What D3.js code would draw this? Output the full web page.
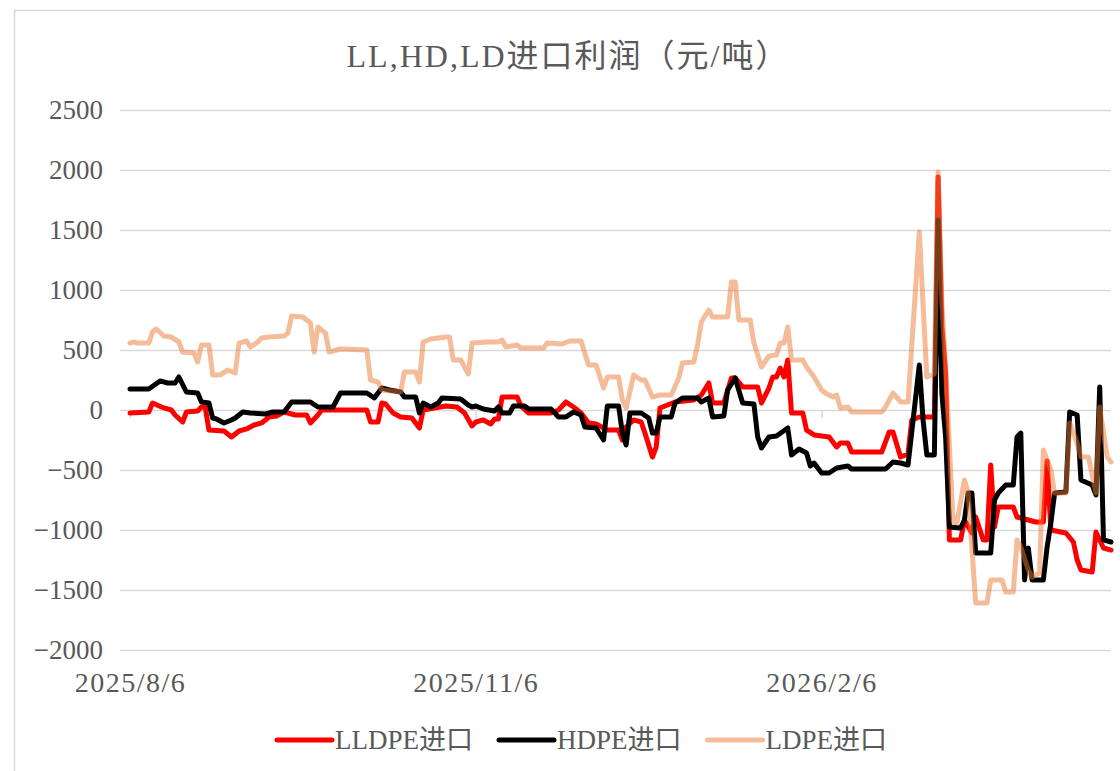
<!DOCTYPE html>
<html>
<head>
<meta charset="utf-8">
<script src="https://cdn.jsdelivr.net/npm/d3@7"></script>
<style>
  body{margin:0;background:#fff}
  text{font-family:"Liberation Serif","Noto Sans CJK SC",serif;fill:#595959}
</style>
</head>
<body>
<svg id="chart" width="1120" height="771"></svg>
<script>
// chart data (yuan / ton)
const title = "LL,HD,LD进口利润（元/吨）"
const seriesNames = ["LLDPE进口", "HDPE进口", "LDPE进口"]
const yTicks = [-2000, -1500, -1000, -500, 0, 500, 1000, 1500, 2000, 2500]
const xTickDates = ["2025/8/6", "2025/11/6", "2026/2/6"]

const llDates = [
  "2025/8/6","2025/8/11","2025/8/12","2025/8/15","2025/8/17","2025/8/18","2025/8/20","2025/8/21","2025/8/24","2025/8/25","2025/8/26","2025/8/27","2025/8/31",
  "2025/9/2","2025/9/4","2025/9/6","2025/9/8","2025/9/10","2025/9/12","2025/9/14","2025/9/16","2025/9/19","2025/9/22","2025/9/23","2025/9/25","2025/9/26",
  "2025/10/8","2025/10/9","2025/10/11","2025/10/12","2025/10/13","2025/10/15","2025/10/16","2025/10/17","2025/10/20","2025/10/22","2025/10/23","2025/10/26","2025/10/29",
  "2025/11/1","2025/11/3","2025/11/5","2025/11/6","2025/11/8","2025/11/10","2025/11/11","2025/11/12","2025/11/13","2025/11/17","2025/11/18","2025/11/20","2025/11/26","2025/11/28","2025/11/30",
  "2025/12/2","2025/12/4","2025/12/6","2025/12/8","2025/12/11","2025/12/14","2025/12/15","2025/12/16","2025/12/18","2025/12/20","2025/12/21","2025/12/23","2025/12/24","2025/12/25","2025/12/27","2025/12/29",
  "2026/1/3","2026/1/5","2026/1/7","2026/1/8","2026/1/11","2026/1/13","2026/1/14","2026/1/16","2026/1/20","2026/1/21","2026/1/23","2026/1/24","2026/1/25","2026/1/26","2026/1/27","2026/1/28","2026/1/29",
  "2026/2/1","2026/2/2","2026/2/4","2026/2/6","2026/2/8","2026/2/10","2026/2/11","2026/2/13","2026/2/14","2026/2/22","2026/2/24","2026/2/25","2026/2/27",
  "2026/3/1","2026/3/2","2026/3/4","2026/3/8","2026/3/9","2026/3/10","2026/3/11","2026/3/12","2026/3/15","2026/3/16","2026/3/18","2026/3/19","2026/3/21","2026/3/22","2026/3/23","2026/3/24","2026/3/25","2026/3/29","2026/3/30",
  "2026/4/2","2026/4/4","2026/4/6","2026/4/7","2026/4/8","2026/4/12","2026/4/14","2026/4/15","2026/4/16","2026/4/19","2026/4/20","2026/4/22","2026/4/24"]
const llValues = [
  -25,-17,58,17,0,-42,-100,-17,-8,25,25,-167,-175,
  -225,-175,-158,-125,-108,-58,-50,-17,-42,-42,-108,-42,0,
  0,-100,-100,58,50,-25,-42,-58,-67,-150,0,17,33,
  25,-25,-133,-100,-83,-117,-75,-75,108,108,33,-25,-25,0,67,
  25,-25,-108,-117,-167,-167,-250,-142,-83,-100,-192,-392,-308,17,42,67,
  83,125,225,58,58,267,267,192,192,58,183,275,275,350,275,417,-25,
  -25,-167,-208,-217,-225,-308,-275,-275,-350,-350,-183,-183,-392,
  -367,-83,-58,-58,1942,692,308,-1083,-1083,-917,-1025,-892,-1083,-1083,-458,-975,-808,-808,-892,
  -917,-933,-933,-425,-1000,-1025,-1100,-1250,-1333,-1350,-1017,-1150,-1167]

const hdDates = [
  "2025/8/6","2025/8/11","2025/8/14","2025/8/16","2025/8/18","2025/8/19","2025/8/21","2025/8/24","2025/8/25","2025/8/27","2025/8/28","2025/8/29","2025/8/31",
  "2025/9/2","2025/9/3","2025/9/5","2025/9/7","2025/9/11","2025/9/13","2025/9/16","2025/9/18","2025/9/23","2025/9/25","2025/9/29",
  "2025/10/1","2025/10/8","2025/10/10","2025/10/12","2025/10/14","2025/10/17","2025/10/18","2025/10/21","2025/10/22","2025/10/23","2025/10/25","2025/10/27","2025/10/28",
  "2025/11/2","2025/11/4","2025/11/5","2025/11/6","2025/11/8","2025/11/11","2025/11/12","2025/11/13","2025/11/15","2025/11/16","2025/11/19","2025/11/20","2025/11/26","2025/11/28","2025/11/30",
  "2025/12/2","2025/12/4","2025/12/5","2025/12/8","2025/12/10","2025/12/11","2025/12/14","2025/12/15","2025/12/16","2025/12/17","2025/12/20","2025/12/22","2025/12/23","2025/12/24","2025/12/25","2025/12/28","2025/12/29","2025/12/31",
  "2026/1/4","2026/1/5","2026/1/7","2026/1/8","2026/1/11","2026/1/12","2026/1/14","2026/1/16","2026/1/19","2026/1/20","2026/1/21","2026/1/23","2026/1/25","2026/1/28","2026/1/29","2026/1/31",
  "2026/2/2","2026/2/3","2026/2/4","2026/2/6","2026/2/8","2026/2/10","2026/2/13","2026/2/14","2026/2/23","2026/2/25","2026/2/27",
  "2026/3/1","2026/3/4","2026/3/5","2026/3/6","2026/3/8","2026/3/9","2026/3/10","2026/3/11","2026/3/12","2026/3/15","2026/3/16","2026/3/17","2026/3/18","2026/3/19","2026/3/23","2026/3/24","2026/3/25","2026/3/27","2026/3/29","2026/3/30","2026/3/31",
  "2026/4/1","2026/4/2","2026/4/3","2026/4/6","2026/4/7","2026/4/8","2026/4/9","2026/4/12","2026/4/13","2026/4/15","2026/4/16","2026/4/19","2026/4/20","2026/4/21","2026/4/22","2026/4/24"]
const hdValues = [
  175,175,242,225,225,275,150,142,67,58,-67,-75,-108,
  -83,-67,-17,-25,-33,-17,-17,67,67,25,25,
  142,142,100,183,167,150,108,108,-25,58,25,58,100,
  92,42,25,33,8,-8,25,-25,-25,33,33,8,8,-58,-58,
  -17,-42,-142,-150,-250,33,33,-192,-292,-25,-25,-67,-192,-192,-58,-58,58,100,
  100,67,100,-58,-50,167,267,58,50,-225,-317,-225,-217,-150,-375,-325,
  -358,-467,-442,-525,-525,-483,-467,-492,-492,-433,-442,
  -458,375,-83,-375,-375,1583,142,-225,-975,-983,-917,-692,-692,-1192,-1192,-750,-692,-625,-625,-225,-192,
  -1417,-1150,-1417,-1417,-1142,-942,-692,-683,-17,-42,-583,-625,-708,192,-1083,-1100]

const ldDates = [
  "2025/8/6","2025/8/7","2025/8/8","2025/8/11","2025/8/12","2025/8/13","2025/8/15","2025/8/17","2025/8/19","2025/8/20","2025/8/23","2025/8/24","2025/8/25","2025/8/27","2025/8/28","2025/8/30",
  "2025/9/1","2025/9/3","2025/9/4","2025/9/6","2025/9/7","2025/9/9","2025/9/10","2025/9/12","2025/9/16","2025/9/17","2025/9/18","2025/9/21","2025/9/23","2025/9/24","2025/9/25","2025/9/27","2025/9/28",
  "2025/10/1","2025/10/8","2025/10/9","2025/10/11","2025/10/12","2025/10/17","2025/10/18","2025/10/21","2025/10/22","2025/10/23","2025/10/25","2025/10/29","2025/10/30","2025/10/31",
  "2025/11/2","2025/11/4","2025/11/5","2025/11/9","2025/11/12","2025/11/13","2025/11/14","2025/11/17","2025/11/18","2025/11/24","2025/11/25","2025/11/29",
  "2025/12/1","2025/12/4","2025/12/6","2025/12/8","2025/12/10","2025/12/11","2025/12/14","2025/12/15","2025/12/16","2025/12/18","2025/12/20","2025/12/21","2025/12/23","2025/12/25","2025/12/28","2025/12/30","2025/12/31",
  "2026/1/3","2026/1/4","2026/1/5","2026/1/7","2026/1/8","2026/1/12","2026/1/13","2026/1/14","2026/1/15","2026/1/18","2026/1/19","2026/1/21","2026/1/23","2026/1/25","2026/1/26","2026/1/27","2026/1/28","2026/1/29",
  "2026/2/1","2026/2/2","2026/2/4","2026/2/6","2026/2/7","2026/2/9","2026/2/10","2026/2/11","2026/2/13","2026/2/14","2026/2/22","2026/2/23","2026/2/25","2026/2/27",
  "2026/3/1","2026/3/4","2026/3/6","2026/3/8","2026/3/9","2026/3/10","2026/3/11","2026/3/13","2026/3/14","2026/3/16","2026/3/17","2026/3/19","2026/3/22","2026/3/23","2026/3/26","2026/3/27","2026/3/29","2026/3/30","2026/3/31",
  "2026/4/2","2026/4/3","2026/4/5","2026/4/6","2026/4/8","2026/4/9","2026/4/12","2026/4/13","2026/4/15","2026/4/16","2026/4/18","2026/4/20","2026/4/21","2026/4/23","2026/4/24"]
const ldValues = [
  558,567,558,558,650,675,617,608,567,483,475,400,542,542,292,292,
  333,308,558,575,525,567,600,608,617,640,783,775,725,483,692,640,483,
  508,500,250,233,167,150,317,317,233,567,592,608,608,417,
  417,300,558,567,567,583,525,542,517,517,558,550,
  575,575,375,375,183,275,275,83,17,292,250,250,108,125,125,267,392,
  400,542,733,833,775,775,1067,1067,750,750,558,358,450,458,558,558,692,417,
  417,358,275,167,142,108,125,17,25,-17,-17,25,142,67,
  67,1483,275,300,1983,900,330,-930,-942,-583,-692,-1608,-1608,-1417,-1417,-1517,-1517,-1083,-1142,
  -1333,-1392,-1358,-333,-500,-692,-692,-108,-275,-392,-392,-692,25,-392,-433]

const seriesColors = ["#ff0000", "#000000", "#eb7a33"]
const seriesOpacity = [1, 1, 0.5]

const parseDate = d3.timeParse("%Y/%m/%d")
const series = [[llDates, llValues], [hdDates, hdValues], [ldDates, ldValues]].map(([ds, vs], i) => ({
  name: seriesNames[i],
  color: seriesColors[i],
  opacity: seriesOpacity[i],
  points: ds.map((d, j) => ({date: parseDate(d), value: vs[j]}))
}))

const width = 1120, height = 771
const plotLeft = 120, plotRight = 1111, plotTop = 110, plotBottom = 650

const svg = d3.select("#chart")
svg.append("rect").attr("width", width).attr("height", height).attr("fill", "#fff")
// chart area border
svg.append("rect").attr("x", 14.5).attr("y", 10.5).attr("width", 1140).attr("height", 800)
  .attr("fill", "none").attr("stroke", "#d9d9d9").attr("stroke-width", 1.5)

svg.append("text").attr("x", 568).attr("y", 67).attr("text-anchor", "middle")
  .attr("font-size", 32).attr("letter-spacing", 2).text(title)

const x = d3.scaleTime()
  .domain([parseDate("2025/8/6"), parseDate("2026/4/24")])
  .range([130, 1111])
const y = d3.scaleLinear().domain([-2000, 2500]).range([plotBottom, plotTop])

// gridlines + y labels
const yAxis = svg.append("g").attr("transform", `translate(${plotLeft},0)`)
  .call(d3.axisLeft(y).tickValues(yTicks).tickSize(-(plotRight - plotLeft)).tickPadding(17).tickFormat(d3.format("d")))
yAxis.select(".domain").remove()
yAxis.selectAll("line").attr("stroke", "#d9d9d9").attr("stroke-width", 1.5)
yAxis.selectAll("text").attr("font-size", 27).attr("fill", "#595959")
  .style("font-family", '"Liberation Serif",serif')

// small tick marks on the zero line
const xTicks = xTickDates.map(parseDate)
const xMarks = svg.append("g").attr("transform", `translate(0,${y(0)})`)
  .call(d3.axisBottom(x).tickValues(xTicks).tickSize(8).tickFormat(""))
xMarks.select(".domain").remove()
xMarks.selectAll("line").attr("stroke", "#d9d9d9").attr("stroke-width", 1.5)

// date labels sit below the plot
const xLabels = svg.append("g").attr("transform", `translate(0,${plotBottom + 10})`)
  .call(d3.axisBottom(x).tickValues(xTicks).tickSize(0).tickPadding(12).tickFormat(d3.timeFormat("%Y/%-m/%-d")))
xLabels.select(".domain").remove()
xLabels.selectAll("text").attr("font-size", 28).attr("fill", "#595959")
  .attr("letter-spacing", 1.5).style("font-family", '"Liberation Serif",serif')

const line = d3.line().x(d => x(d.date)).y(d => y(d.value))
series.forEach(s => {
  svg.append("path").datum(s.points)
    .attr("d", line)
    .attr("fill", "none")
    .attr("stroke", s.color)
    .attr("stroke-opacity", s.opacity)
    .attr("stroke-width", 5)
    .attr("stroke-linejoin", "round")
    .attr("stroke-linecap", "round")
})

// legend
const legend = svg.append("g").attr("transform", "translate(0,740)")
let lx = 277
series.forEach(s => {
  legend.append("line").attr("x1", lx).attr("x2", lx + 55).attr("y1", 0).attr("y2", 0)
    .attr("stroke", s.color).attr("stroke-opacity", s.opacity)
    .attr("stroke-width", 5).attr("stroke-linecap", "round")
  const t = legend.append("text").attr("x", lx + 58).attr("y", 0).attr("dy", "0.35em")
    .attr("font-size", 27).text(s.name)
  lx += 58 + t.node().getComputedTextLength() + 26
})
</script>
</body>
</html>
